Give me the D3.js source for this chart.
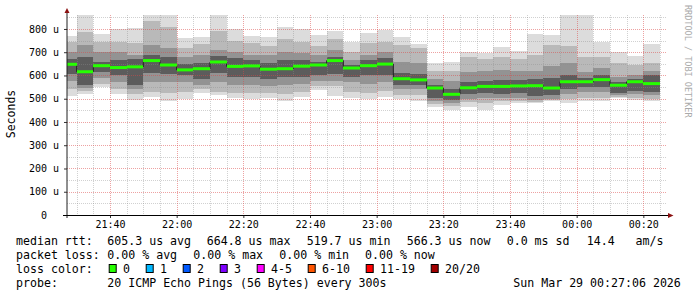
<!DOCTYPE html>
<html>
<head>
<meta charset="utf-8">
<script src="https://cdn.jsdelivr.net/npm/d3@7"></script>
<style>
    body { margin: 0; background: #fff; }
    svg text { font-family: "DejaVu Sans Mono", monospace; white-space: pre; }
</style>
</head>
<body>
<div id="chart"></div>
<script>
// 5 minute steps, each bar starts at this time
var barStarts = ["21:25", "21:30", "21:35", "21:40", "21:45", "21:50", "21:55", "22:00", "22:05", "22:10",
    "22:15", "22:20", "22:25", "22:30", "22:35", "22:40", "22:45", "22:50", "22:55", "23:00",
    "23:05", "23:10", "23:15", "23:20", "23:25", "23:30", "23:35", "23:40", "23:45", "23:50",
    "23:55", "00:00", "00:05", "00:10", "00:15", "00:20"];

// round trip times in microseconds
var median = [648, 616, 642, 634, 637, 664, 645, 624, 629, 658, 639, 641, 627, 629, 640, 645, 664, 632, 642, 649,
    586, 581, 546, 519, 547, 553, 553, 555, 556, 546, 573, 573, 582, 558, 573, 565];
var pingMax = [770, 860, 778, 799, 804, 860, 860, 760, 767, 860, 799, 770, 764, 807, 799, 774, 791, 744, 784, 796,
    764, 735, 652, 659, 702, 695, 721, 705, 778, 774, 860, 860, 744, 702, 684, 735];
var pingHi1 = [745, 785, 745, 745, 740, 835, 810, 720, 735, 790, 750, 740, 725, 755, 745, 725, 755, 700, 740, 745,
    730, 720, 620, 620, 680, 670, 680, 670, 690, 730, 725, 681, 680, 655, 645, 652];
var pingHi2 = [700, 730, 700, 700, 690, 730, 720, 680, 690, 710, 700, 690, 690, 700, 695, 690, 710, 665, 690, 700,
    660, 655, 585, 575, 615, 620, 625, 620, 620, 640, 655, 615, 630, 595, 600, 620];
var pingHi3 = [672, 680, 660, 665, 670, 690, 680, 650, 655, 685, 675, 665, 655, 665, 668, 660, 680, 645, 665, 675,
    610, 605, 560, 540, 570, 575, 580, 580, 585, 590, 600, 590, 600, 570, 585, 600];
var pingLo3 = [605, 560, 615, 600, 560, 610, 605, 600, 585, 610, 595, 595, 585, 595, 595, 600, 605, 595, 600, 600,
    560, 560, 505, 495, 520, 525, 520, 525, 510, 515, 540, 550, 550, 525, 535, 530];
var pingLo2 = [575, 548, 590, 570, 540, 570, 570, 570, 560, 570, 560, 560, 555, 560, 565, 575, 575, 570, 565, 570,
    540, 540, 490, 482, 500, 505, 505, 505, 495, 500, 520, 530, 530, 515, 520, 515];
var pingLo1 = [540, 535, 565, 540, 520, 530, 525, 530, 540, 530, 525, 525, 525, 520, 530, 555, 555, 530, 525, 535,
    515, 515, 478, 470, 485, 480, 490, 490, 485, 495, 500, 505, 505, 508, 505, 500];
var pingMin = [512, 520, 550, 520, 495, 506, 489, 500, 526, 517, 503, 500, 503, 492, 506, 538, 512, 503, 498, 506,
    498, 492, 466, 452, 466, 452, 474, 480, 480, 492, 483, 492, 492, 503, 495, 492];

var xTickLabels = ["21:40", "22:00", "22:20", "22:40", "23:00", "23:20", "23:40", "00:00", "00:20"];
var yTickValues = [0, 100, 200, 300, 400, 500, 600, 700, 800];
var yTickLabels = ["0  ", "100 u", "200 u", "300 u", "400 u", "500 u", "600 u", "700 u", "800 u"];

var lossLabels = ["0", "1", "2", "3", "4-5", "6-10", "11-19", "20/20"];
var lossColors = ["#26ff00", "#00b8ff", "#0059ff", "#7e00ff", "#ff00ff", "#ff5500", "#ff0000", "#a10000"];

var parseHM = function (s) {
    var p = s.split(":"), h = +p[0];
    // after midnight is the next day
    return new Date(2026, 2, h < 12 ? 29 : 28, h, +p[1]);
};

var W = 697, H = 297,
    pLeft = 67, pRight = 667, pTop = 15, pBottom = 215;

var tStart = new Date(2026, 2, 28, 21, 27, 6),
    tEnd = new Date(2026, 2, 29, 0, 27, 6);

var x = d3.scaleTime().domain([tStart, tEnd]).range([pLeft, pRight]);
var y = d3.scaleLinear().domain([0, 860]).range([pBottom, pTop]);

var svg = d3.select("#chart").append("svg")
    .attr("width", W)
    .attr("height", H);

svg.append("rect").attr("width", W).attr("height", H).attr("fill", "#fff");

svg.append("clipPath").attr("id", "canvas")
    .append("rect")
    .attr("x", pLeft).attr("y", pTop)
    .attr("width", pRight - pLeft).attr("height", pBottom - pTop);

var bars = barStarts.map(function (s, i) {
    var t0 = parseHM(s);
    return { i: i, t0: t0, t1: d3.timeMinute.offset(t0, 5) };
});

// smoke: outer band lightest, inner bands darker
var bands = [
    { lo: pingMin, hi: pingMax, color: "#dcdcdc" },
    { lo: pingLo1, hi: pingHi1, color: "#b9b9b9" },
    { lo: pingLo2, hi: pingHi2, color: "#939393" },
    { lo: pingLo3, hi: pingHi3, color: "#5c5c5c" }
];

var smoke = svg.append("g").attr("clip-path", "url(#canvas)").attr("shape-rendering", "crispEdges");
bands.forEach(function (b) {
    smoke.append("g").selectAll("rect")
        .data(bars)
        .enter().append("rect")
        .attr("x", function (d) { return Math.round(x(d.t0)); })
        .attr("width", function (d) { return Math.round(x(d.t1)) - Math.round(x(d.t0)); })
        .attr("y", function (d) { return Math.round(y(b.hi[d.i])); })
        .attr("height", function (d) { return Math.round(y(b.lo[d.i])) - Math.round(y(b.hi[d.i])); })
        .attr("fill", b.color);
});

// grid over the smoke
var grid = svg.append("g").attr("shape-rendering", "crispEdges");
var minorY = d3.range(50, 860, 50).filter(function (v) { return v % 100; });
var majorY = yTickValues.slice(1);
var minorX = d3.timeMinute.every(5).range(tStart, tEnd).filter(function (t) { return t.getMinutes() % 20; });
var majorX = xTickLabels.map(parseHM);

grid.selectAll(".hminor").data(minorY).enter().append("line")
    .attr("x1", pLeft).attr("x2", pRight)
    .attr("y1", function (d) { return Math.round(y(d)) + 0.5; })
    .attr("y2", function (d) { return Math.round(y(d)) + 0.5; })
    .attr("stroke", "rgba(140,140,140,0.4)").attr("stroke-dasharray", "1,1");
grid.selectAll(".vminor").data(minorX).enter().append("line")
    .attr("y1", pTop).attr("y2", pBottom)
    .attr("x1", function (d) { return Math.round(x(d)) + 0.5; })
    .attr("x2", function (d) { return Math.round(x(d)) + 0.5; })
    .attr("stroke", "rgba(140,140,140,0.4)").attr("stroke-dasharray", "1,1");
grid.selectAll(".hmajor").data(majorY).enter().append("line")
    .attr("x1", pLeft).attr("x2", pRight)
    .attr("y1", function (d) { return Math.round(y(d)) + 0.5; })
    .attr("y2", function (d) { return Math.round(y(d)) + 0.5; })
    .attr("stroke", "rgba(220,70,70,0.5)").attr("stroke-dasharray", "1,1");
grid.selectAll(".vmajor").data(majorX).enter().append("line")
    .attr("y1", pTop).attr("y2", pBottom)
    .attr("x1", function (d) { return Math.round(x(d)) + 0.5; })
    .attr("x2", function (d) { return Math.round(x(d)) + 0.5; })
    .attr("stroke", "rgba(220,70,70,0.5)").attr("stroke-dasharray", "1,1");

// median: thin dark step line, then the loss coloured segments
var plot = svg.append("g").attr("clip-path", "url(#canvas)");
var stepPts = bars.map(function (d) { return [x(d.t0), y(median[d.i])]; });
stepPts.push([x(bars[bars.length - 1].t1), y(median[median.length - 1])]);
plot.append("path")
    .attr("d", d3.line().curve(d3.curveStepAfter)(stepPts))
    .attr("fill", "none")
    .attr("stroke", "#202020")
    .attr("stroke-width", 1);
plot.selectAll(".med").data(bars).enter().append("line")
    .attr("x1", function (d) { return Math.round(x(d.t0)); })
    .attr("x2", function (d) { return Math.round(x(d.t1)); })
    .attr("y1", function (d) { return y(median[d.i]); })
    .attr("y2", function (d) { return y(median[d.i]); })
    .attr("stroke", lossColors[0])
    .attr("stroke-width", 3);

// axes
var yAxis = svg.append("g")
    .attr("transform", "translate(" + pLeft + ",0)")
    .call(d3.axisLeft(y).tickValues(yTickValues)
        .tickFormat(function (d, i) { return yTickLabels[i]; })
        .tickSize(3).tickPadding(5));
var xAxis = svg.append("g")
    .attr("transform", "translate(0," + pBottom + ")")
    .call(d3.axisBottom(x).tickValues(majorX)
        .tickFormat(function (d, i) { return xTickLabels[i]; })
        .tickSize(3).tickPadding(3));
[xAxis, yAxis].forEach(function (g) {
    g.select(".domain").remove();
    g.attr("font-family", null).attr("font-size", null);
    g.selectAll("text").attr("font-size", "10px").attr("fill", "#000");
    g.selectAll("line").attr("stroke", "#333");
});

svg.append("line")
    .attr("x1", pLeft).attr("x2", pLeft).attr("y1", pBottom + 3).attr("y2", 12)
    .attr("stroke", "#202020");
svg.append("line")
    .attr("x1", pLeft - 4).attr("x2", 669).attr("y1", pBottom + 0.5).attr("y2", pBottom + 0.5)
    .attr("stroke", "#000");
svg.append("path")
    .attr("d", "M64.5,13L69.5,13L67,8Z")
    .attr("fill", "#8b1010");
svg.append("path")
    .attr("d", "M668,213L668,218L673.5,215.5Z")
    .attr("fill", "#8b1010");

svg.append("text")
    .attr("transform", "translate(14.5,114) rotate(-90)")
    .attr("text-anchor", "middle")
    .attr("font-size", "11.5px")
    .text("Seconds");

svg.append("text")
    .attr("transform", "translate(684.5,5) rotate(90)")
    .attr("font-size", "8.5px")
    .attr("fill", "#aaaaaa")
    .text("RRDTOOL / TOBI OETIKER");

// legend below the graph
var legend = svg.append("g").attr("font-size", "11.6px").attr("fill", "#000");
var legendRows = [
    { y: 245, items: [[16, "median rtt:"], [107.3, "605.3 us avg"], [206.7, "664.8 us max"],
        [306.7, "519.7 us min"], [406.7, "566.3 us now"], [506.7, "0.0 ms sd"], [586.7, "14.4   am/s"]] },
    { y: 258.7, items: [[16, "packet loss:"], [107.3, "0.00 % avg"], [193.3, "0.00 % max"],
        [279.3, "0.00 % min"], [365, "0.00 % now"]] },
    { y: 272.5, items: [[16, "loss color:"]] },
    { y: 286.5, items: [[16, "probe:"], [107.3, "20 ICMP Echo Pings (56 Bytes) every 300s"],
        [513.3, "Sun Mar 29 00:27:06 2026"]] }
];
legendRows.forEach(function (row) {
    row.items.forEach(function (it) {
        legend.append("text").attr("x", it[0]).attr("y", row.y).text(it[1]);
    });
});

var lx = 108.7;
lossLabels.forEach(function (lab, i) {
    legend.append("rect")
        .attr("x", lx + 0.5).attr("y", 264.5)
        .attr("width", 7).attr("height", 8)
        .attr("fill", lossColors[i])
        .attr("stroke", "#000");
    legend.append("text").attr("x", lx + 14.3).attr("y", 272.5).text(lab);
    lx += 30 + 7 * lab.length;
});
</script>
</body>
</html>
